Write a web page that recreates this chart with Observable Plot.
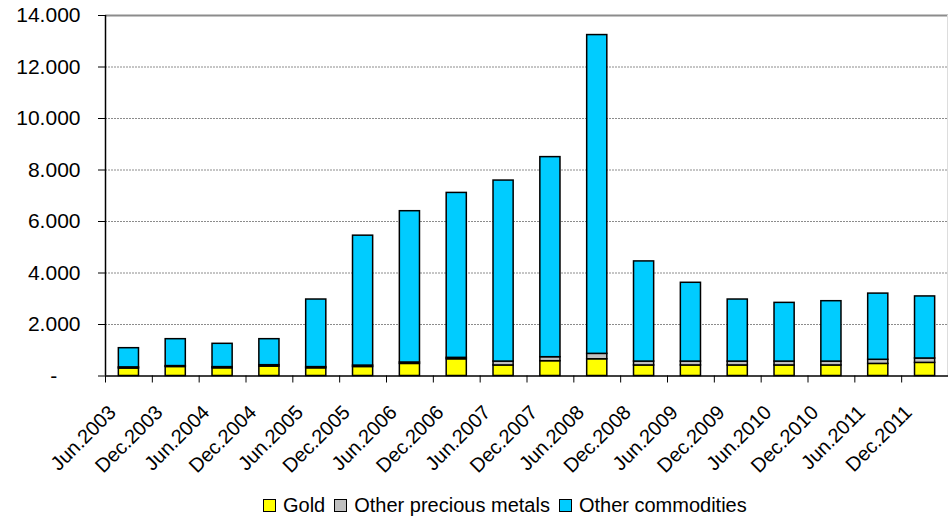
<!DOCTYPE html>
<html>
<head>
<meta charset="utf-8">
<script src="https://cdn.jsdelivr.net/npm/d3@7"></script>
<script src="https://cdn.jsdelivr.net/npm/@observablehq/plot@0.6"></script>
<style>
  html, body { margin: 0; padding: 0; background: #fff; }
  body { width: 948px; height: 517px; overflow: hidden; font-family: Arial, "Liberation Sans", sans-serif; color: #000; }
  #legend { display: flex; align-items: center; height: 36px; padding-left: 263px; margin-top: 6px; font-size: 20px; line-height: 20px; white-space: nowrap; }
  .item { display: flex; align-items: center; margin-right: 9px; }
  .sw { width: 11px; height: 11px; border: 1px solid #000; margin-right: 7px; }
</style>
</head>
<body>
<div id="chart"></div>
<div id="legend"></div>
<script>
const periods = ["Jun.2003","Dec.2003","Jun.2004","Dec.2004","Jun.2005","Dec.2005","Jun.2006","Dec.2006","Jun.2007","Dec.2007","Jun.2008","Dec.2008","Jun.2009","Dec.2009","Jun.2010","Dec.2010","Jun.2011","Dec.2011"];
const gold = [290, 350, 300, 365, 300, 350, 470, 650, 410, 575, 650, 410, 410, 410, 410, 410, 470, 510];
const otherPrecious = [45, 35, 45, 55, 45, 55, 55, 55, 150, 155, 210, 150, 150, 150, 150, 150, 160, 170];
const otherCommodities = [745, 1045, 905, 1010, 2625, 5045, 5875, 6405, 7030, 7770, 12380, 3890, 3060, 2410, 2280, 2345, 2570, 2410];
const seriesNames = ["Gold", "Other precious metals", "Other commodities"];
const seriesColors = ["#FFFF00", "#C0C0C0", "#00CCFF"];
const yTicks = [0, 2000, 4000, 6000, 8000, 10000, 12000, 14000];

const seriesValues = [gold, otherPrecious, otherCommodities];
const rows = periods.flatMap((p, i) => seriesNames.map((s, k) => ({period: p, series: s, value: seriesValues[k][i]})));

const W = 948, H = 481, mL = 105, mR = 0, mT = 15, mB = H - 375.5;
const step = (W - mL - mR) / periods.length;
const fmt = d => d === 0 ? "-\u2007\u2007" : d3.format(",")(d).replace(/,/g, ".");

const chart = Plot.plot({
  width: W, height: H,
  marginLeft: mL, marginRight: mR, marginTop: mT, marginBottom: mB,
  style: {fontFamily: "Arial, 'Liberation Sans', sans-serif", fontSize: "20px", color: "#000", background: "#fff", overflow: "visible"},
  x: {domain: periods, paddingInner: 0.57, paddingOuter: 0.285, round: false, axis: null, label: null},
  y: {domain: [0, 14000], axis: null, label: null},
  color: {domain: seriesNames, range: seriesColors},
  marks: [
    Plot.gridY(yTicks.filter(d => d > 0 && d < 14000), {stroke: "#8c8c8c", strokeOpacity: 1, strokeWidth: 1, strokeDasharray: "2,1"}),
    Plot.ruleY([14000], {stroke: "#8c8c8c", strokeWidth: 2}),
    Plot.ruleX([periods[periods.length - 1]], {dx: step / 2 - 1, stroke: "#dddddd"}),
    Plot.barY(rows, Plot.stackY({x: "period", y: "value", fill: "series", order: seriesNames, stroke: "#000", strokeWidth: 1.5})),
    Plot.ruleX([periods[0]], {dx: -step / 2, stroke: "#000", strokeWidth: 1.5}),
    Plot.ruleY([0], {stroke: "#000", strokeWidth: 1.5}),
    Plot.axisY({ticks: yTicks, tickSize: 7, tickPadding: 18, tickFormat: fmt, fontSize: 21, stroke: "#000", label: null}),
    Plot.axisX({tickSize: 7, tickFormat: () => "", dx: -step / 2, stroke: "#000", label: null}),
    Plot.axisX({tickSize: 0, tickRotate: -45, tickPadding: 33, dx: -step / 2 + 7, fontSize: 20, textAnchor: "end", label: null})
  ]
});
document.getElementById("chart").appendChild(chart);

const legend = document.getElementById("legend");
seriesNames.forEach((s, k) => {
  const it = document.createElement("div");
  it.className = "item";
  const sw = document.createElement("div");
  sw.className = "sw";
  sw.style.background = seriesColors[k];
  const tx = document.createElement("span");
  tx.textContent = s;
  it.appendChild(sw);
  it.appendChild(tx);
  legend.appendChild(it);
});
</script>
</body>
</html>
